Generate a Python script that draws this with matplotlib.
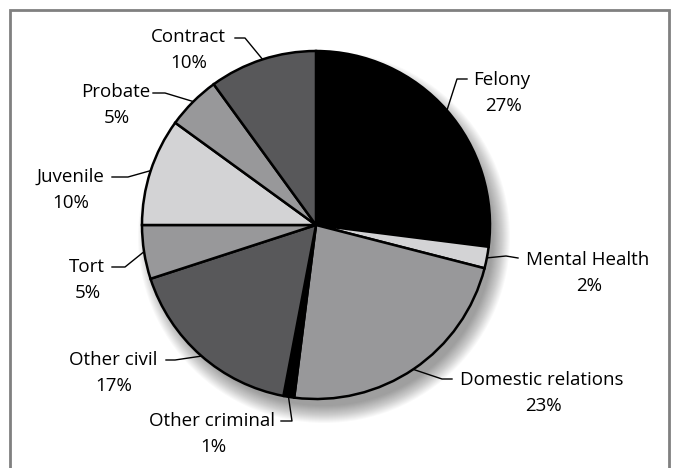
import numpy as np
import matplotlib
matplotlib.use('Agg')
import matplotlib.pyplot as plt
from matplotlib.patches import Circle

# case types and their share of the caseload
categories = ['Felony', 'Mental Health', 'Domestic relations', 'Other criminal',
              'Other civil', 'Tort', 'Juvenile', 'Probate', 'Contract']
shares = [27, 2, 23, 1, 17, 5, 10, 5, 10]
pct_labels = ['27%', '2%', '23%', '1%', '17%', '5%', '10%', '5%', '10%']
colors = ['#000000', '#d3d3d5', '#98989a', '#000000', '#58585a',
          '#98989a', '#d3d3d5', '#98989a', '#58585a']

W, H = 673, 468
cx, cy, R = 316, 225, 174

# label centre (x, y of first line) and elbow of the leader line, in pixels from top-left
label_pos = [(502, 80), (588, 260), (542, 380), (212, 421), (113, 360),
             (87, 267), (70, 177), (116, 92), (188, 37)]
elbow = [((467, 79), (457, 79)), ((518, 258), (506, 256)), ((452, 379), (442, 379)),
         ((281, 421), (292, 421)), ((166, 360), (175, 360)), ((112, 267), (125, 267)),
         ((112, 177), (128, 177)), ((153, 93), (165, 93)), ((235, 38), (245, 38))]


def py(y):
    return H - y


fig = plt.figure(figsize=(W / 100, H / 100), dpi=100)
ax = fig.add_axes([0, 0, 1, 1])

# soft shadow behind the pie, falling to the lower right
for k in range(18):
    ax.add_patch(Circle((cx + 8, py(cy) - 12), R + 12 - k, color='black',
                        alpha=0.022, lw=0, zorder=0))
ax.add_patch(Circle((cx, py(cy)), R, color='white', lw=0, zorder=0.5))

wedges, _ = ax.pie(shares, colors=colors, startangle=90, counterclock=False,
                   center=(cx, py(cy)), radius=R, frame=True,
                   wedgeprops=dict(edgecolor='black', linewidth=1.8))

for w, name, pct, (tx, ty), (e0, e1) in zip(wedges, categories, pct_labels, label_pos, elbow):
    mid = np.deg2rad((w.theta1 + w.theta2) / 2)
    ex = cx + (R + 1) * np.cos(mid)
    ey = py(cy) + (R + 1) * np.sin(mid)
    ax.plot([e0[0], e1[0], ex], [py(e0[1]), py(e1[1]), ey], color='black', lw=1.0, zorder=3)
    ax.text(tx, py(ty), name, ha='center', va='center', fontsize=13.5, family='Open Sans')
    ax.text(tx + 1, py(ty + 26), pct, ha='center', va='center', fontsize=13.5, family='Open Sans')

# frame around the figure (open at the bottom)
ax.plot([10, 10, 669, 669], [0, py(10), py(10), 0], color='#808080', lw=2, zorder=4,
        solid_joinstyle='miter')

ax.set_xlim(0, W)
ax.set_ylim(0, H)
ax.set_aspect('equal')
ax.axis('off')

fig.savefig('out.png', dpi=100)
